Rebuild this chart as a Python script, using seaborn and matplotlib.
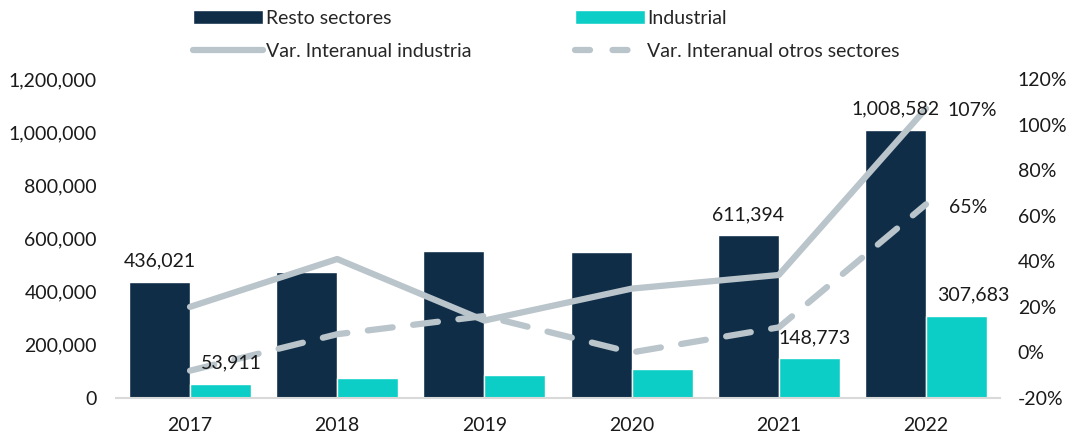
import numpy as np
import pandas as pd
import matplotlib
matplotlib.use("Agg")
import matplotlib.pyplot as plt
import matplotlib.ticker as mticker
from matplotlib.patches import Patch
from matplotlib.lines import Line2D
import seaborn as sns

# data
years = ["2017", "2018", "2019", "2020", "2021", "2022"]
resto = [436021, 474000, 553000, 548000, 611394, 1008582]
industrial = [53911, 74000, 85000, 108000, 148773, 307683]
var_industria = [0.20, 0.41, 0.14, 0.28, 0.34, 1.07]
var_otros = [-0.08, 0.08, 0.16, 0.00, 0.11, 0.65]

# which bar labels are shown in the original
resto_labels = ["436,021", "", "", "", "611,394", "1,008,582"]
ind_labels = ["53,911", "", "", "", "148,773", "307,683"]

DARK = "#0F2D47"
TEAL = "#0DCEC6"
GREY = "#B9C4CB"
TXT = "#1A1A1A"
FS = 14

sns.set_theme(style="white")
plt.rcParams["font.family"] = ["Lato", "DejaVu Sans"]
plt.rcParams["font.size"] = FS

df = pd.DataFrame({
    "year": years * 2,
    "value": resto + industrial,
    "serie": ["Resto sectores"] * len(years) + ["Industrial"] * len(years),
})

fig = plt.figure(figsize=(10.7, 4.38), dpi=100)
ax = fig.add_axes([0.1088, 0.0913, 0.8254, 0.7283])

sns.barplot(data=df, x="year", y="value", hue="serie",
            palette=[DARK, TEAL], width=0.83, saturation=1,
            ax=ax, legend=False)
ax.set_ylim(0, 1200000)
ax.set_xlim(-0.5, len(years) - 0.5)
ax.yaxis.set_major_locator(mticker.MultipleLocator(200000))
ax.yaxis.set_major_formatter(mticker.FuncFormatter(lambda v, p: f"{v:,.0f}"))
ax.set_xlabel("")
ax.set_ylabel("")
for s in ["top", "right", "left"]:
    ax.spines[s].set_visible(False)
ax.spines["bottom"].set_color("#D9D9D9")
ax.spines["bottom"].set_linewidth(1.5)
ax.tick_params(axis="y", length=0, pad=14, labelsize=FS, colors=TXT)
ax.tick_params(axis="x", length=0, pad=14, labelsize=FS, colors=TXT)

ax2 = ax.twinx()
xpos = np.arange(len(years))
sns.lineplot(x=xpos, y=var_industria, color=GREY, lw=4.5, ax=ax2)
sns.lineplot(x=xpos, y=var_otros, color=GREY, lw=4.5, ax=ax2)
ax2.lines[1].set_dashes([4.0, 3.3])
ax2.lines[1].set_dash_capstyle("round")
ax2.set_ylim(-0.2, 1.2)
ax2.yaxis.set_major_locator(mticker.MultipleLocator(0.2))
ax2.yaxis.set_major_formatter(mticker.FuncFormatter(lambda v, p: f"{v:.0%}"))
for s in ["top", "right", "left", "bottom"]:
    ax2.spines[s].set_visible(False)
ax2.tick_params(axis="y", length=0, pad=13, labelsize=FS, colors=TXT)
ax2.set_ylabel("")
ax2.set_xlim(-0.5, len(years) - 0.5)

# bar value labels, drawn on the top axes so they sit above the lines
# (the industrial labels are nudged right a little, as in the original)
nudge = {0: [0, 0, 0, 0, 0, 0], 1: [8, 0, 0, 0, 4, 12]}
for k, (cont, labels) in enumerate(zip(ax.containers, [resto_labels, ind_labels])):
    for i, (bar, lab) in enumerate(zip(cont, labels)):
        if not lab:
            continue
        ax2.annotate(lab, (bar.get_x() + bar.get_width() / 2, bar.get_height()),
                     xycoords=ax.transData, xytext=(nudge[k][i], 9),
                     textcoords="offset points", ha="center", va="bottom",
                     fontsize=FS, color=TXT, zorder=5)

ax2.annotate(f"{var_industria[-1]:.0%}", (xpos[-1], var_industria[-1]),
             xytext=(33, -1), textcoords="offset points",
             ha="center", va="center", fontsize=FS, color=TXT)
ax2.annotate(f"{var_otros[-1]:.0%}", (xpos[-1], var_otros[-1]),
             xytext=(30, -2), textcoords="offset points",
             ha="center", va="center", fontsize=FS, color=TXT)

handles = [
    Patch(facecolor=DARK, label="Resto sectores"),
    Line2D([], [], color=GREY, lw=4.5, label="Var. Interanual industria"),
    Patch(facecolor=TEAL, label="Industrial"),
    Line2D([], [], color=GREY, lw=4.5, dashes=[2.4, 3.6],
           dash_capstyle="round", label="Var. Interanual otros sectores"),
]
fig.legend(handles=handles, ncol=2, loc="upper left",
           bbox_to_anchor=(0.1804, 0.978), frameon=False,
           borderpad=0, borderaxespad=0, handlelength=3.6,
           handletextpad=0.15, labelspacing=0.85, columnspacing=5.3,
           fontsize=FS)

fig.savefig("out.png", dpi=100)
